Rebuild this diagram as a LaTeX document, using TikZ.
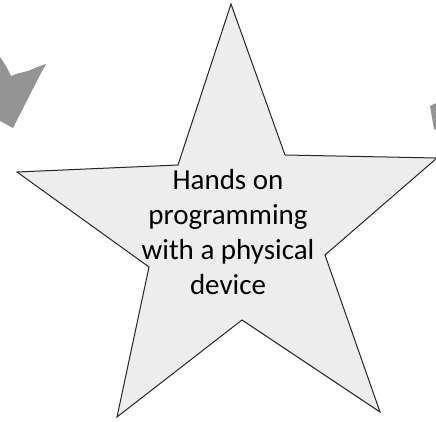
\documentclass[tikz,border=0pt]{standalone}
\usepackage{fontspec}
\setmainfont{Carlito}
\begin{document}
\begin{tikzpicture}[x=1pt,y=-1pt,
  starshape/.style={draw=black!85,line width=1pt,fill=black!7,line join=miter},
  grayshape/.style={fill=black!42,draw=none},
  label/.style={align=center,font=\fontsize{29}{35}\selectfont,text=black,inner sep=0pt}]
\useasboundingbox (0,0) rectangle (436,422);
% gray fragments
\fill[grayshape] (0,57) -- (6,66) -- (11,76) -- (16,74) -- (28,71) -- (40,66) -- (46,64) -- (40,75) -- (13,128) -- (0,121) -- cycle;
\fill[grayshape] (430,106) -- (436,103) -- (436,130) -- (434,129) -- cycle;
% star
\draw[starshape] (231,4) -- (285,155) -- (437,158) -- (325,255) -- (380,412) -- (242,320) -- (117,417) -- (149,267) -- (17,172) -- (178,165) -- cycle;
\node[label] (t) at (228,232) {Hands on\\programming\\with a physical\\device};
\end{tikzpicture}
\end{document}
